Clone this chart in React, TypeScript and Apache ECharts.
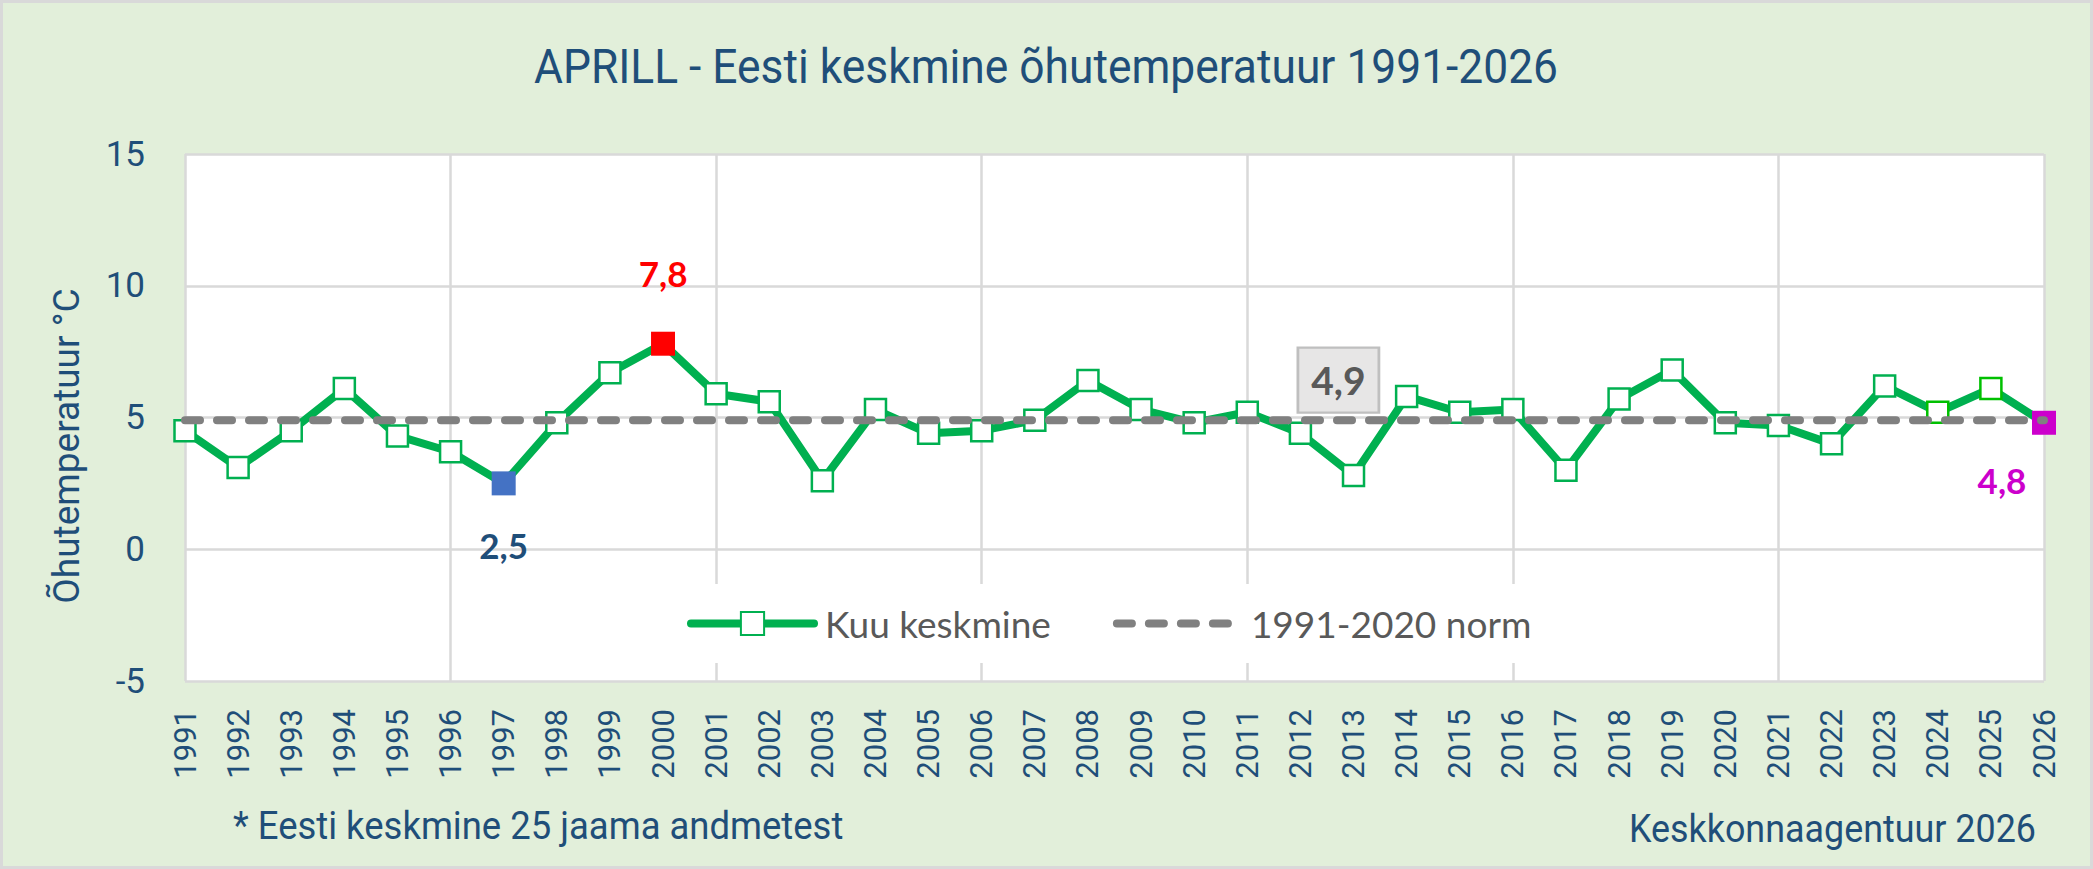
import { useEffect, useRef } from "react";
import * as echarts from "echarts";

const YEARS = [
  "1991", "1992", "1993", "1994", "1995", "1996", "1997", "1998", "1999", "2000",
  "2001", "2002", "2003", "2004", "2005", "2006", "2007", "2008", "2009", "2010",
  "2011", "2012", "2013", "2014", "2015", "2016", "2017", "2018", "2019", "2020",
  "2021", "2022", "2023", "2024", "2025", "2026",
];

// April mean air temperature, °C
const TEMPS = [
  4.5, 3.1, 4.5, 6.1, 4.3, 3.7, 2.5, 4.8, 6.7, 7.8,
  5.9, 5.6, 2.6, 5.3, 4.4, 4.5, 4.9, 6.4, 5.3, 4.8,
  5.2, 4.4, 2.8, 5.8, 5.2, 5.3, 3.0, 5.7, 6.8, 4.8,
  4.7, 4.0, 6.2, 5.2, 6.1, 4.8,
];

const NORM = 4.9;
const NORM_LABEL_YEAR = "2012";

const Y_TICKS = { min: -5, max: 15, step: 5 };

const SERIES_NAMES = ["Kuu keskmine", "1991-2020 norm"];
const TITLE = "APRILL - Eesti keskmine õhutemperatuur 1991-2026";
const Y_NAME = "Õhutemperatuur °C";
const NOTE_LEFT = "* Eesti keskmine 25 jaama andmetest";
const NOTE_RIGHT = "Keskkonnaagentuur 2026";

const BLUE = "#1f4e79";
const GREEN = "#00b050";
const ROBOTO = "Roboto, sans-serif";
const LATO = "Lato, 'Open Sans', sans-serif";

// highlighted points: min, max, latest
const MARKS: Record<string, { color: string; text: string; offset: number[] }> = {
  "1997": { color: "#4472c4", text: BLUE, offset: [0, 62] },
  "2000": { color: "#ff0000", text: "#ff0000", offset: [0, -71] },
  "2026": { color: "#cc00cc", text: "#cc00cc", offset: [-42, 57] },
};
const BRIGHT_BORDER = ["2024", "2025"];

const comma = (v: number) => String(v).replace(".", ",");

function note(text: string, x: number, y: number, size: number, align: string, scaleX: number) {
  return {
    type: "text",
    x,
    y,
    scaleX,
    style: {
      text,
      fill: BLUE,
      fontFamily: ROBOTO,
      fontSize: size,
      align,
      verticalAlign: "middle",
      textAlign: align,
      textVerticalAlign: "middle",
    },
  };
}

export default function App() {
  const ref = useRef<HTMLDivElement>(null);

  useEffect(() => {
    document.body.style.margin = "0";
    if (!ref.current) return;
    const chart = echarts.init(ref.current, null, { renderer: "svg" });

    const mainData = TEMPS.map((v, i) => {
      const year = YEARS[i];
      const m = MARKS[year];
      if (m) {
        return {
          value: v,
          symbolSize: 24,
          itemStyle: { color: m.color, borderColor: m.color, borderWidth: 0 },
          label: {
            show: true,
            position: "inside",
            offset: m.offset,
            formatter: () => comma(v),
            color: m.text,
            fontFamily: LATO,
            fontWeight: "bold",
            fontSize: 35,
          },
        };
      }
      if (BRIGHT_BORDER.includes(year)) {
        return { value: v, itemStyle: { borderColor: "#00c000" } };
      }
      return v;
    });

    chart.setOption({
      animation: false,
      backgroundColor: "#e2efda",
      grid: {
        left: 185,
        top: 154,
        right: 49,
        bottom: 188,
        show: true,
        backgroundColor: "#ffffff",
        borderWidth: 0,
      },
      legend: {
        data: [
          { name: SERIES_NAMES[0] },
          { name: SERIES_NAMES[1], itemStyle: { opacity: 0 } },
        ],
        left: 672,
        top: 584,
        padding: [21, 16, 21, 15],
        backgroundColor: "#ffffff",
        itemWidth: 123,
        itemHeight: 29,
        itemGap: 62,
        lineStyle: { width: 8, cap: "round" },
        textStyle: {
          color: "#595959",
          fontFamily: LATO,
          fontSize: 37,
          padding: [0, 0, 0, 6],
        },
      },
      xAxis: {
        type: "category",
        data: YEARS,
        boundaryGap: false,
        axisLine: { show: false },
        axisTick: { show: false },
        axisLabel: {
          interval: 0,
          rotate: 90,
          margin: 28,
          color: BLUE,
          fontFamily: ROBOTO,
          fontSize: 31,
        },
        splitLine: {
          show: true,
          interval: 4,
          lineStyle: { color: "#d9d9d9", width: 2.5 },
        },
      },
      yAxis: {
        type: "value",
        min: Y_TICKS.min,
        max: Y_TICKS.max,
        interval: Y_TICKS.step,
        axisLine: { show: false },
        axisTick: { show: false },
        axisLabel: {
          margin: 40,
          color: BLUE,
          fontFamily: ROBOTO,
          fontSize: 35,
        },
        splitLine: { lineStyle: { color: "#d9d9d9", width: 2.5 } },
      },
      series: [
        {
          name: SERIES_NAMES[0],
          type: "line",
          z: 2,
          data: mainData,
          symbol: "rect",
          symbolSize: 21,
          lineStyle: { color: GREEN, width: 8 },
          itemStyle: { color: "#ffffff", borderColor: GREEN, borderWidth: 2.5 },
        },
        {
          name: SERIES_NAMES[1],
          type: "line",
          z: 3,
          symbol: "none",
          data: [
            [YEARS[0], NORM],
            [YEARS[YEARS.length - 1], NORM],
          ],
          lineStyle: { color: "#808080", width: 8, type: [15, 17], cap: "round" },
          itemStyle: { color: "#808080" },
          markPoint: {
            z: 4,
            symbol: "rect",
            symbolSize: [81, 65],
            symbolOffset: [38, -40],
            itemStyle: { color: "#e7e6e6", borderColor: "#bfbfbf", borderWidth: 2.5 },
            label: {
              show: true,
              position: "inside",
              formatter: () => comma(NORM),
              color: "#595959",
              fontFamily: LATO,
              fontWeight: "bold",
              fontSize: 39,
            },
            data: [{ coord: [NORM_LABEL_YEAR, NORM], value: NORM }],
          },
        },
      ],
      graphic: [
        {
          type: "rect",
          shape: { x: 1.5, y: 1.5, width: 2090, height: 866 },
          style: { fill: "none", stroke: "#d9d9d9", lineWidth: 3 },
          silent: true,
        },
        note(TITLE, 1046, 66, 49, "center", 0.905),
        {
          type: "text",
          x: 66,
          y: 446,
          rotation: Math.PI / 2,
          style: {
            text: Y_NAME,
            fill: BLUE,
            fontFamily: ROBOTO,
            fontSize: 37,
            align: "center",
            verticalAlign: "middle",
            textAlign: "center",
            textVerticalAlign: "middle",
          },
        },
        note(NOTE_LEFT, 233, 826, 39, "left", 0.935),
        note(NOTE_RIGHT, 2036, 828, 39, "right", 0.92),
      ],
    });

    return () => {
      chart.dispose();
    };
  }, []);

  return (
    <div
      ref={ref}
      style={{ position: "fixed", left: 0, top: 0, width: "2093px", height: "869px" }}
    />
  );
}
